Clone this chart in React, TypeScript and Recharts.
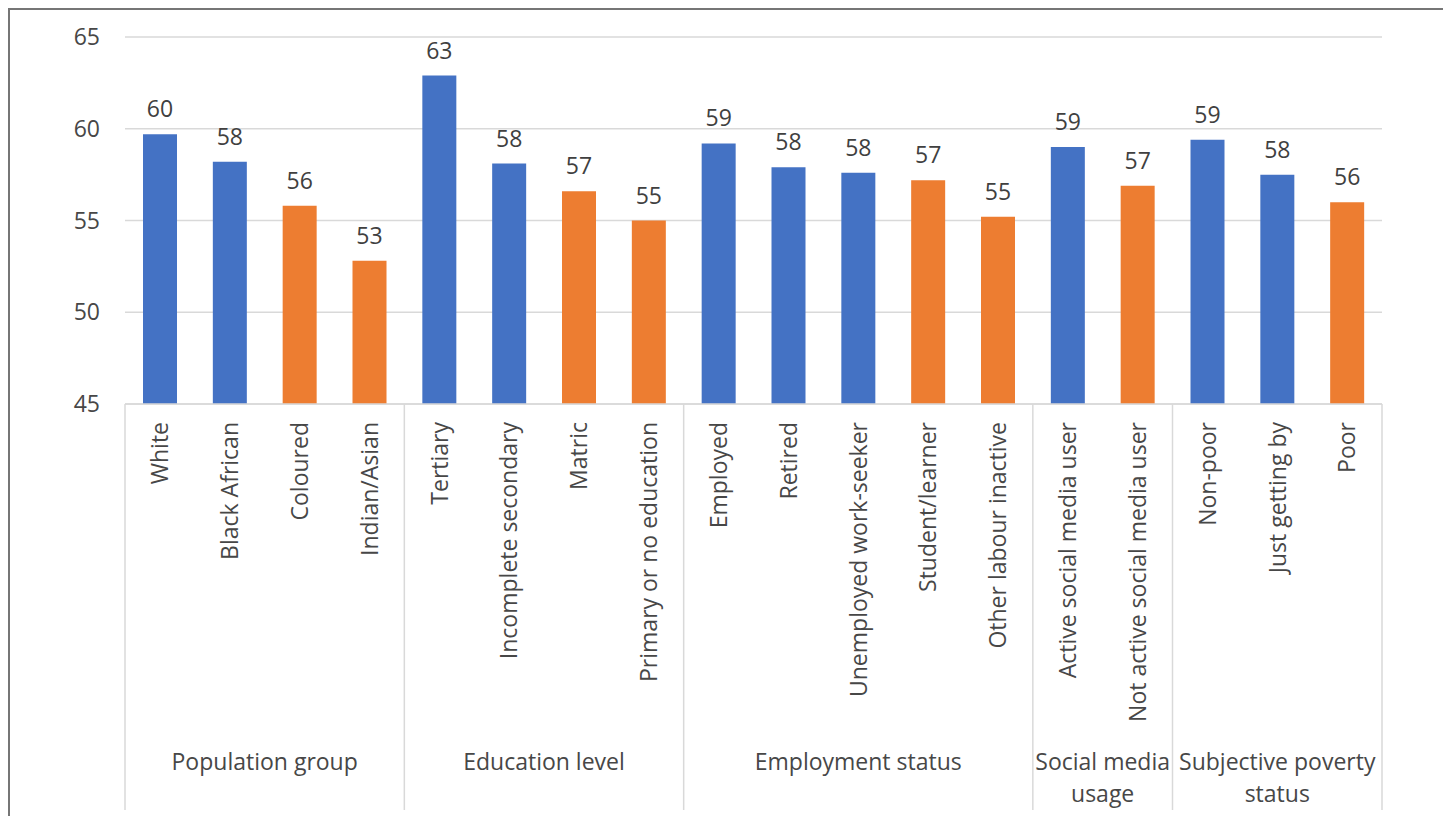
import React from "react";
import {
  BarChart,
  Bar,
  XAxis,
  YAxis,
  CartesianGrid,
  LabelList,
  Cell,
} from "recharts";

const categories = [
  "White",
  "Black African",
  "Coloured",
  "Indian/Asian",
  "Tertiary",
  "Incomplete secondary",
  "Matric",
  "Primary or no education",
  "Employed",
  "Retired",
  "Unemployed work-seeker",
  "Student/learner",
  "Other labour inactive",
  "Active social media user",
  "Not active social media user",
  "Non-poor",
  "Just getting by",
  "Poor",
];

const values = [
  59.7, 58.2, 55.8, 52.8, 62.9, 58.1, 56.6, 55.0, 59.2, 57.9, 57.6, 57.2, 55.2,
  59.0, 56.9, 59.4, 57.5, 56.0,
];

// blue = higher-scoring subgroup, orange = lower
const tones = [
  "blue", "blue", "orange", "orange",
  "blue", "blue", "orange", "orange",
  "blue", "blue", "blue", "orange", "orange",
  "blue", "orange",
  "blue", "blue", "orange",
];

const groupNames = [
  ["Population group"],
  ["Education level"],
  ["Employment status"],
  ["Social media", "usage"],
  ["Subjective poverty", "status"],
];
const groupSizes = [4, 4, 5, 2, 3];

const yTicks = [45, 50, 55, 60, 65];

const toneColors: Record<string, string> = {
  blue: "#4472C4",
  orange: "#ED7D31",
};

const rows = categories.map((name, i) => ({ name, value: values[i] }));

// index of the first bar in each group
const groupStarts = groupSizes.map((_, g) =>
  groupSizes.slice(0, g).reduce((a, b) => a + b, 0)
);

const CHART_W = 1434;
const CHART_H = 810;
const Y_AXIS_W = 115;
const RIGHT = 62;
const TOP = 27;
const X_AXIS_H = 416;
const PLOT_W = CHART_W - Y_AXIS_W - RIGHT;
const FONT = 23;
const GRID = "#d9d9d9";
const TEXT = "#474747";

function CategoryTick(props: any) {
  const { x, y, payload, index } = props;
  const band = PLOT_W / categories.length;
  const g = groupStarts.indexOf(index);
  const isLast = index === categories.length - 1;

  return (
    <g>
      <text
        transform={`translate(${x}, ${y + 18}) rotate(-90)`}
        textAnchor="end"
        dy="0.36em"
        fill={TEXT}
        fontSize={FONT}
      >
        {payload.value}
      </text>

      {/* group separators */}
      {g >= 0 && (
        <line
          x1={x - band / 2}
          x2={x - band / 2}
          y1={y}
          y2={y + 406}
          stroke={GRID}
          strokeWidth={1.5}
        />
      )}
      {isLast && (
        <line
          x1={x + band / 2}
          x2={x + band / 2}
          y1={y}
          y2={y + 406}
          stroke={GRID}
          strokeWidth={1.5}
        />
      )}

      {/* group label */}
      {g >= 0 && (
        <text
          x={x - band / 2 + (groupSizes[g] * band) / 2}
          y={y + 358}
          textAnchor="middle"
          fill={TEXT}
          fontSize={FONT}
        >
          {groupNames[g].map((line, li) => (
            <tspan
              key={li}
              x={x - band / 2 + (groupSizes[g] * band) / 2}
              dy={li === 0 ? "0.36em" : 32}
            >
              {line}
            </tspan>
          ))}
        </text>
      )}
    </g>
  );
}

export default function App() {
  return (
    <div
      style={{
        width: 1438,
        height: 830,
        border: "2px solid #767676",
        boxSizing: "border-box",
        fontFamily: "'Open Sans', sans-serif",
        background: "#fff",
      }}
    >
      <BarChart
        width={CHART_W}
        height={CHART_H}
        data={rows}
        margin={{ top: TOP, right: RIGHT, left: 0, bottom: 0 }}
      >
        <CartesianGrid vertical={false} stroke={GRID} strokeWidth={1.5} />
        <XAxis
          dataKey="name"
          interval={0}
          height={X_AXIS_H}
          axisLine={{ stroke: GRID, strokeWidth: 1.5 }}
          tickLine={false}
          tickSize={0}
          tickMargin={0}
          tick={(p: any) => <CategoryTick {...p} />}
        />
        <YAxis
          domain={[45, 65]}
          ticks={yTicks}
          width={Y_AXIS_W}
          axisLine={false}
          tickLine={false}
          tickSize={0}
          tickMargin={25}
          tick={{ fill: TEXT, fontSize: FONT }}
        />
        <Bar dataKey="value" barSize={34} isAnimationActive={false}>
          {rows.map((_, i) => (
            <Cell key={i} fill={toneColors[tones[i]]} />
          ))}
          <LabelList
            dataKey="value"
            position="top"
            offset={17}
            fill="#404040"
            fontSize={FONT}
            formatter={(v: any) => Math.round(Number(v))}
          />
        </Bar>
      </BarChart>
    </div>
  );
}
